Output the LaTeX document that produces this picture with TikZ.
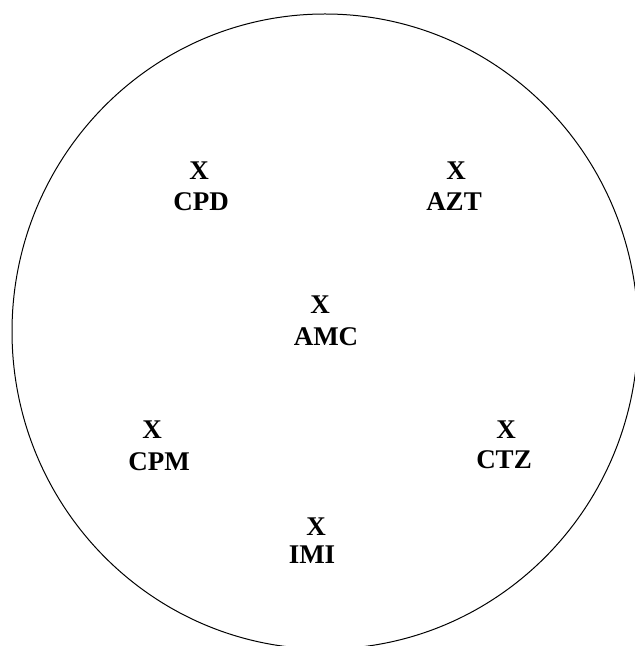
\documentclass[tikz,border=0pt]{standalone}
\usepackage{fontspec}
\setmainfont{Liberation Serif}
\usepackage{tikz}

\begin{document}
\begin{tikzpicture}[x=0.5pt,y=-0.5pt,lbl/.style={inner sep=0pt,font=\bfseries\fontsize{13.5}{16}\selectfont}]
\useasboundingbox (0,0) rectangle (635,646);
\draw[line width=0.5pt] (325,331.5) ellipse [x radius=313, y radius=317.5];
\node[lbl] (cpdx) at (199,171) {X};
\node[lbl] (cpd) at (201,202) {CPD};
\node[lbl] (aztx) at (456,171) {X};
\node[lbl] (azt) at (454,202) {AZT};
\node[lbl] (amcx) at (320,305) {X};
\node[lbl] (amc) at (326,337) {AMC};
\node[lbl] (cpmx) at (152,430) {X};
\node[lbl] (cpm) at (159,462) {CPM};
\node[lbl] (ctzx) at (506,430) {X};
\node[lbl] (ctz) at (504,460) {CTZ};
\node[lbl] (imix) at (316,527) {X};
\node[lbl] (imi) at (312,555) {IMI};
\end{tikzpicture}
\end{document}
